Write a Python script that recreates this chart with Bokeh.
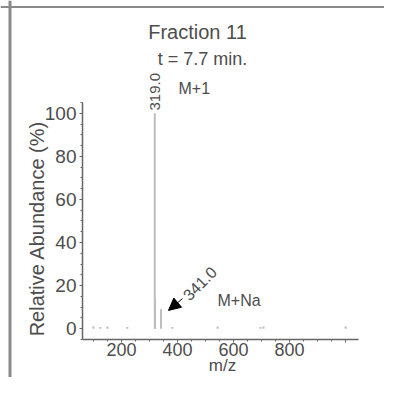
from bokeh.plotting import figure
from bokeh.models import Range1d, FixedTicker, Label, Arrow, NormalHead, ColumnDataSource, Span
from bokeh.embed import file_html
from bokeh.resources import INLINE

# m/z peaks and relative abundance (%)
mz = [100, 125, 150, 221, 319, 320, 341, 382, 543, 696, 707, 1000]
abundance = [1.2, 0.8, 1.0, 0.8, 100, 14, 9, 0.8, 1.0, 0.8, 1.0, 1.2]

x_ticks = [200, 400, 600, 800, 1000]
x_minor = list(range(100, 1050, 50))
y_ticks = [0, 20, 40, 60, 80, 100]
y_minor = list(range(-5, 106, 5))

title1 = "Fraction 11"
title2 = "t = 7.7 min."
x_title = "m/z"
y_title = "Relative Abundance (%)"
FONT = "Liberation Sans"
TXT = "#4d4d4d"

# axis extents (data) and the view around them
X0, X1 = 61, 1046
Y0, Y1 = -5, 105

p = figure(width=384, height=377, output_backend="svg", toolbar_location=None,
           x_range=Range1d(-231.6, 1138.8), y_range=Range1d(-22.64, 152.34),
           min_border_left=0, min_border_right=0, min_border_top=0, min_border_bottom=0)
p.outline_line_color = None
p.grid.visible = False
p.background_fill_color = "white"
p.border_fill_color = "white"

src = ColumnDataSource(dict(x=mz, y=abundance, y0=[0] * len(mz)))
p.segment(x0="x", y0="y0", x1="x", y1="y", source=src, line_color="#bdbdbd", line_width=2)

for ax in (p.xaxis[0], p.yaxis[0]):
    ax.axis_line_color = "#666666"
    ax.axis_line_width = 1.5
    ax.major_tick_line_color = "#666666"
    ax.minor_tick_line_color = "#666666"
    ax.major_tick_in = 0
    ax.major_tick_out = 3
    ax.minor_tick_in = 0
    ax.minor_tick_out = 2
    ax.major_label_text_font = FONT
    ax.major_label_text_font_size = "19px"
    ax.major_label_text_color = TXT

p.xaxis.fixed_location = Y0
p.xaxis.bounds = (X0, X1)
p.xaxis.ticker = FixedTicker(ticks=x_ticks, minor_ticks=x_minor)
p.xaxis.major_label_overrides = {1000: ""}
p.xaxis.major_label_standoff = 1
p.xaxis.major_label_text_font_size = "18px"

p.yaxis.fixed_location = X0
p.yaxis.bounds = (Y0, Y1)
p.yaxis.ticker = FixedTicker(ticks=y_ticks, minor_ticks=y_minor)
p.yaxis.major_label_standoff = 3

def lab(x, y, t, size, align="center", base="middle", angle=0.0):
    p.add_layout(Label(x=x, y=y, text=t, text_font=FONT, text_font_size=size,
                       text_color=TXT, text_align=align, text_baseline=base, angle=angle))

lab(471.5, 137.95, title1, "20px")
lab(489.3, 125.42, title2, "18px")
lab(319, 101.3, "319.0", "15px", align="left", angle=1.5708)
lab(403.7, 111.5, "M+1", "16px", align="left")
lab(428.6, 14.5, "341.0", "16px", align="left", angle=0.7854)
lab(542.8, 13.1, "M+Na", "16px", align="left")
lab(560.7, -17.1, x_title, "17px")
lab(-103.1, 46.5, y_title, "20px", angle=1.5708)

p.add_layout(Arrow(end=NormalHead(size=12, fill_color="black", line_color="black"),
                   x_start=418, y_start=14.0, x_end=368, y_end=8.5,
                   line_color="black", line_width=1))

# picture frame lines (top and left edges)
p.add_layout(Span(location=149.3, dimension="width", line_color="#8a8a8a", line_width=2))
p.add_layout(Span(location=-197.7, dimension="height", line_color="#8a8a8a", line_width=3))

open("out.html", "w").write(file_html(p, INLINE))
